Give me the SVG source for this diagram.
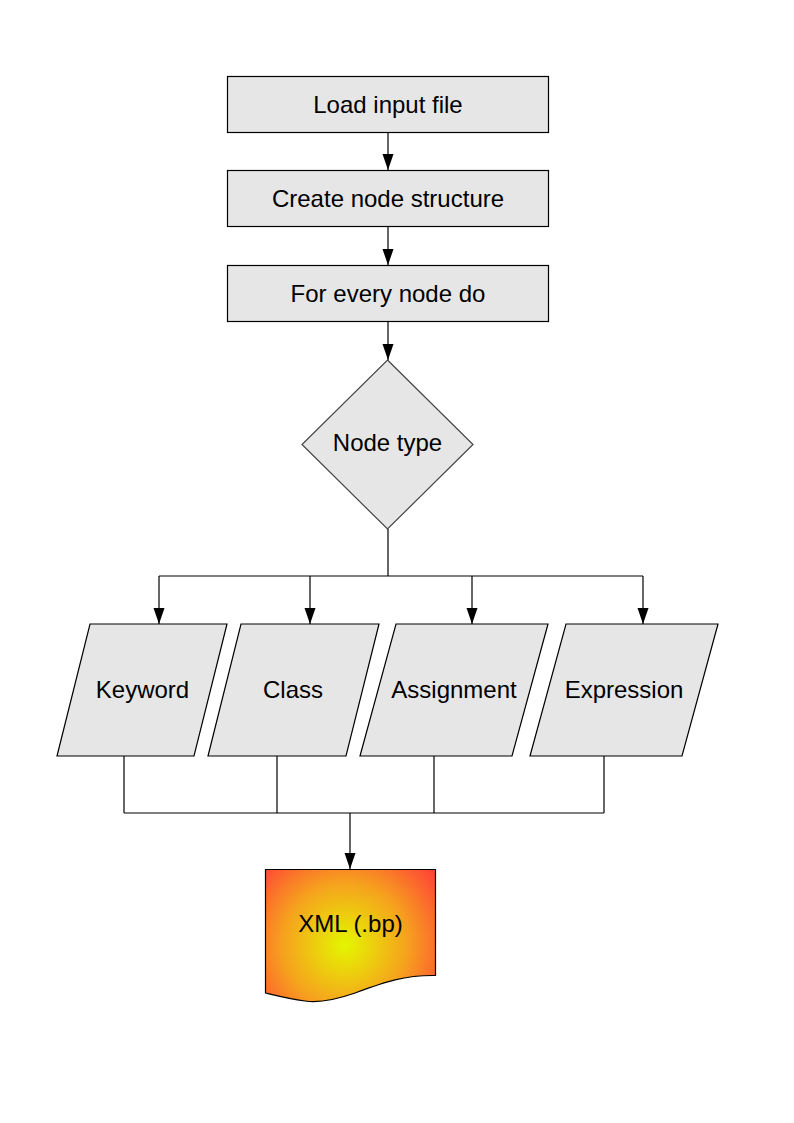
<svg xmlns="http://www.w3.org/2000/svg" width="794" height="1123" viewBox="0 0 794 1123">
  <style>
    .shape { fill: #e6e6e6; stroke: #000; stroke-width: 1.2; }
    .lbl { font-family: "Liberation Sans", Arial, sans-serif; font-size: 24px; fill: #000; text-anchor: middle; }
    .conn { fill: none; stroke: #000; stroke-width: 1.2; }
  </style>
  <defs>
    <marker id="arrow" viewBox="0 0 16 12" refX="16" refY="6" markerWidth="16" markerHeight="12" markerUnits="userSpaceOnUse" orient="auto">
      <path d="M0,0.5 L16,6 L0,11.5 Z" fill="#000"/>
    </marker>
    <radialGradient id="docGrad" cx="345" cy="945" r="115" gradientUnits="userSpaceOnUse">
      <stop offset="0" stop-color="#e4f600"/>
      <stop offset="0.55" stop-color="#f6a01e"/>
      <stop offset="1" stop-color="#ff4236"/>
    </radialGradient>
  </defs>
  <rect width="794" height="1123" fill="#fff"/>

  <g id="connectors">
    <line class="conn" x1="388" y1="132" x2="388" y2="170" marker-end="url(#arrow)"/>
    <line class="conn" x1="388" y1="226" x2="388" y2="265" marker-end="url(#arrow)"/>
    <line class="conn" x1="388" y1="321" x2="388" y2="360" marker-end="url(#arrow)"/>
    <line class="conn" x1="388" y1="529" x2="388" y2="576"/>
    <line class="conn" x1="159" y1="576" x2="643" y2="576"/>
    <line class="conn" x1="159" y1="576" x2="159" y2="624" marker-end="url(#arrow)"/>
    <line class="conn" x1="310" y1="576" x2="310" y2="624" marker-end="url(#arrow)"/>
    <line class="conn" x1="472" y1="576" x2="472" y2="624" marker-end="url(#arrow)"/>
    <line class="conn" x1="643" y1="576" x2="643" y2="624" marker-end="url(#arrow)"/>
    <line class="conn" x1="124" y1="756" x2="124" y2="813"/>
    <line class="conn" x1="277" y1="756" x2="277" y2="813"/>
    <line class="conn" x1="434" y1="756" x2="434" y2="813"/>
    <line class="conn" x1="604" y1="756" x2="604" y2="813"/>
    <line class="conn" x1="124" y1="813" x2="604" y2="813"/>
    <line class="conn" x1="350" y1="813" x2="350" y2="869" marker-end="url(#arrow)"/>
  </g>

  <g id="load">
    <rect class="shape" x="227.5" y="76.5" width="321" height="56"/>
    <text class="lbl" x="388" y="113">Load input file</text>
  </g>
  <g id="create">
    <rect class="shape" x="227.5" y="170.5" width="321" height="56"/>
    <text class="lbl" x="388" y="207">Create node structure</text>
  </g>
  <g id="foreach">
    <rect class="shape" x="227.5" y="265.5" width="321" height="56"/>
    <text class="lbl" x="388" y="302">For every node do</text>
  </g>
  <g id="nodetype">
    <polygon class="shape" points="387.5,360 473,444.5 387.5,529 302,444.5" style="stroke:#444"/>
    <text class="lbl" x="387.5" y="451">Node type</text>
  </g>
  <g id="keyword">
    <polygon class="shape" points="90,624 227,624 194,756 57,756"/>
    <text class="lbl" x="142.5" y="698">Keyword</text>
  </g>
  <g id="class">
    <polygon class="shape" points="241,624 379,624 346,756 208,756"/>
    <text class="lbl" x="293" y="698">Class</text>
  </g>
  <g id="assignment">
    <polygon class="shape" points="396,624 548,624 512,756 360,756"/>
    <text class="lbl" x="454" y="698">Assignment</text>
  </g>
  <g id="expression">
    <polygon class="shape" points="566,624 718,624 682,756 530,756"/>
    <text class="lbl" x="624" y="698">Expression</text>
  </g>
  <g id="xml">
    <path d="M265.5,869.5 L435.5,869.5 L435.5,975.5 C405,975 385,982 355,993 C335,1000 318,1003 305,1001 C290,999 278,996 265.5,993 Z" fill="url(#docGrad)" stroke="#000" stroke-width="1.2"/>
    <text class="lbl" x="350.5" y="932">XML (.bp)</text>
  </g>
</svg>
